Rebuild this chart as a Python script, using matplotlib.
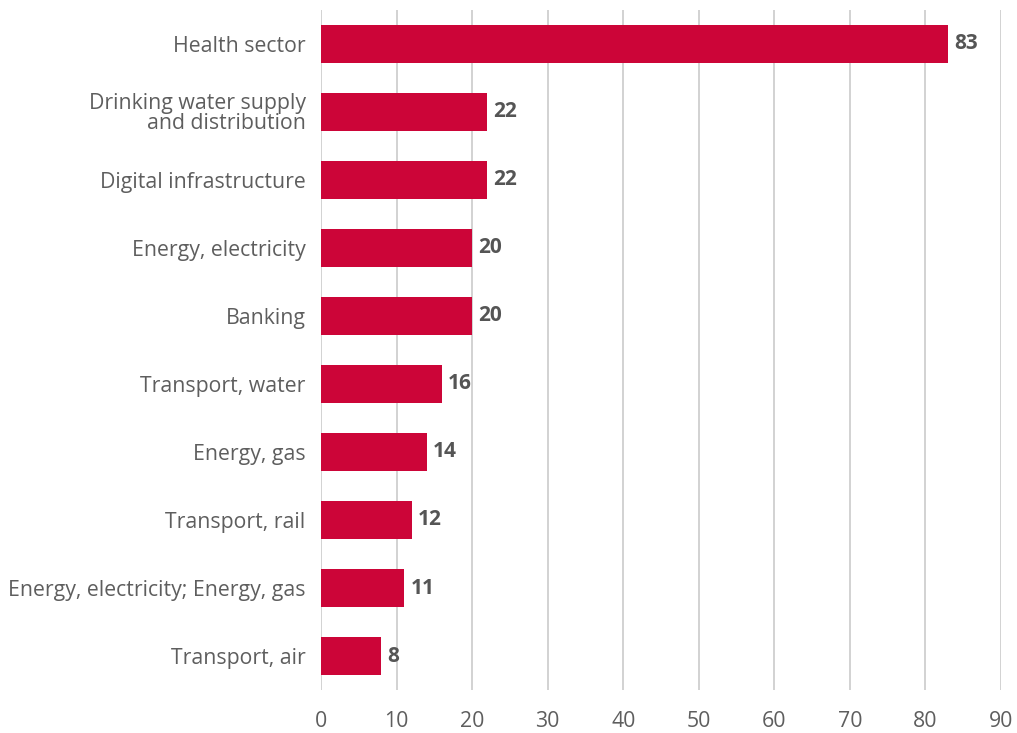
import matplotlib.pyplot as plt

plt.rcParams['font.family'] = ['Open Sans', 'DejaVu Sans']

sectors = [
    "Health sector",
    "Drinking water supply\nand distribution",
    "Digital infrastructure",
    "Energy, electricity",
    "Banking",
    "Transport, water",
    "Energy, gas",
    "Transport, rail",
    "Energy, electricity; Energy, gas",
    "Transport, air",
]
counts = [83, 22, 22, 20, 20, 16, 14, 12, 11, 8]
xticks = [0, 10, 20, 30, 40, 50, 60, 70, 80, 90]

bar_color = "#CC0538"
text_color = "#5E5E5E"

fig = plt.figure(figsize=(10.17, 7.33), dpi=100)
ax = fig.add_axes([0.3156, 0.0586, 0.6687, 0.928])

pos = list(range(len(sectors)))
bars = ax.barh(pos, counts, height=0.56, color=bar_color, zorder=3)

for b, v in zip(bars, counts):
    ax.annotate(str(v), (b.get_width(), b.get_y() + b.get_height() / 2),
                xytext=(4.5, 0), textcoords="offset points",
                ha="left", va="center", fontsize=15, fontweight="bold",
                color="#555555")

ax.set_xlim(0, 90)
ax.set_ylim(9.5, -0.5)
ax.set_xticks(xticks)
ax.set_yticks(pos)
ax.set_yticklabels(sectors, fontsize=15.3, color=text_color, linespacing=0.9)
ax.tick_params(axis="x", labelsize=15.3, labelcolor=text_color, length=0, pad=15)
ax.tick_params(axis="y", length=0, pad=11)
for lbl in ax.get_yticklabels():
    lbl.set_multialignment("right")

ax.grid(axis="x", color="#CFCFCF", linewidth=1.3, zorder=0)
for s in ax.spines.values():
    s.set_visible(False)

fig.savefig("out.png", dpi=100)
